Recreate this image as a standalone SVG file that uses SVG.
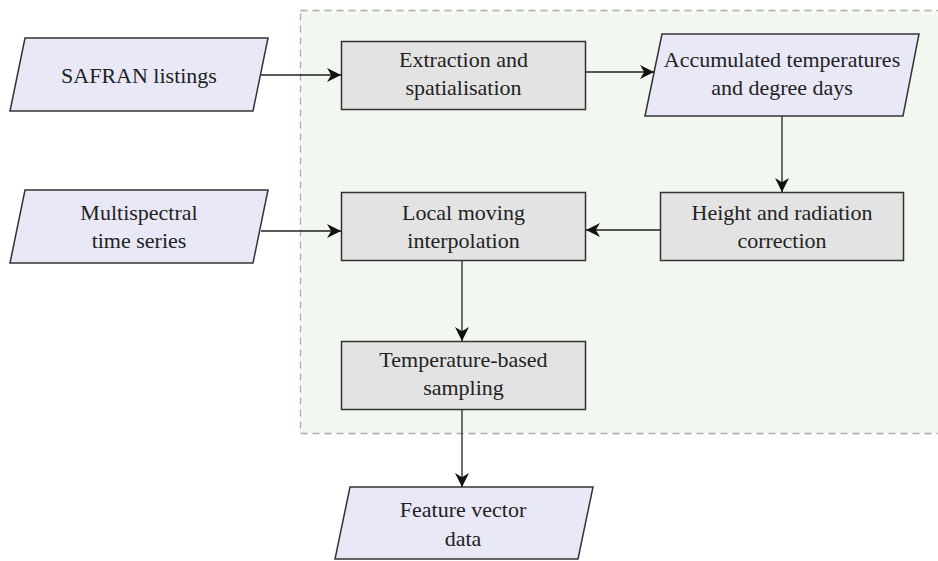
<svg xmlns="http://www.w3.org/2000/svg" width="938" height="561" viewBox="0 0 938 561">
<style>
.io{fill:#e8e8f6;stroke:#333;stroke-width:1.5}
.proc{fill:#e3e3e3;stroke:#333;stroke-width:1.5}
.t{font-family:'Liberation Serif','Tinos','DejaVu Serif','Times New Roman',serif;font-size:22px;fill:#222;text-anchor:middle}
.edge{fill:none;stroke:#222;stroke-width:1.3;marker-end:url(#arr)}
</style>
<defs>
<marker id="arr" viewBox="0 0 10 10" refX="10" refY="5" markerWidth="14" markerHeight="14" markerUnits="userSpaceOnUse" orient="auto">
<path d="M0,0 L10,5 L0,10 L3,5 z" fill="#111"/>
</marker>
</defs>
<rect id="container" x="300.5" y="10.5" width="650" height="423" fill="#f2f7f0" stroke="#aaa" stroke-width="1.3" stroke-dasharray="7,5"/>
<g id="safran">
<polygon class="io" points="25,38 268,38 253,111 10,111"/>
<text class="t" font-family="Liberation Serif, serif" x="139" y="83">SAFRAN listings</text>
</g>
<g id="extraction">
<rect class="proc" x="341.5" y="41.5" width="244" height="68"/>
<text class="t" font-family="Liberation Serif, serif" x="463.5" y="67">Extraction and</text>
<text class="t" font-family="Liberation Serif, serif" x="463.5" y="95">spatialisation</text>
</g>
<g id="accumulated">
<polygon class="io" points="662,34 919,34 903,116 645,116"/>
<text class="t" font-family="Liberation Serif, serif" x="782" y="67">Accumulated temperatures</text>
<text class="t" font-family="Liberation Serif, serif" x="782" y="95">and degree days</text>
</g>
<g id="multispectral">
<polygon class="io" points="25,190 268,190 253,263 10,263"/>
<text class="t" font-family="Liberation Serif, serif" x="139" y="220">Multispectral</text>
<text class="t" font-family="Liberation Serif, serif" x="139" y="248">time series</text>
</g>
<g id="local">
<rect class="proc" x="341.5" y="192.5" width="244" height="68"/>
<text class="t" font-family="Liberation Serif, serif" x="463.5" y="220">Local moving</text>
<text class="t" font-family="Liberation Serif, serif" x="463.5" y="248">interpolation</text>
</g>
<g id="height">
<rect class="proc" x="660.5" y="192.5" width="243" height="68"/>
<text class="t" font-family="Liberation Serif, serif" x="782" y="220">Height and radiation</text>
<text class="t" font-family="Liberation Serif, serif" x="782" y="248">correction</text>
</g>
<g id="temperature">
<rect class="proc" x="341.5" y="341.5" width="244" height="68"/>
<text class="t" font-family="Liberation Serif, serif" x="463.5" y="367">Temperature-based</text>
<text class="t" font-family="Liberation Serif, serif" x="463.5" y="395">sampling</text>
</g>
<g id="feature">
<polygon class="io" points="350,487 593,487 578,559 335,559"/>
<text class="t" font-family="Liberation Serif, serif" x="463" y="517">Feature vector</text>
<text class="t" font-family="Liberation Serif, serif" x="463" y="546">data</text>
</g>
<g id="connectors">
<path class="edge" d="M261,75 H341"/>
<path class="edge" d="M586,72 H654"/>
<path class="edge" d="M782,116 V192"/>
<path class="edge" d="M660,230 H586"/>
<path class="edge" d="M261,231 H341"/>
<path class="edge" d="M462,261 V341"/>
<path class="edge" d="M462,410 V487"/>
</g>
</svg>
